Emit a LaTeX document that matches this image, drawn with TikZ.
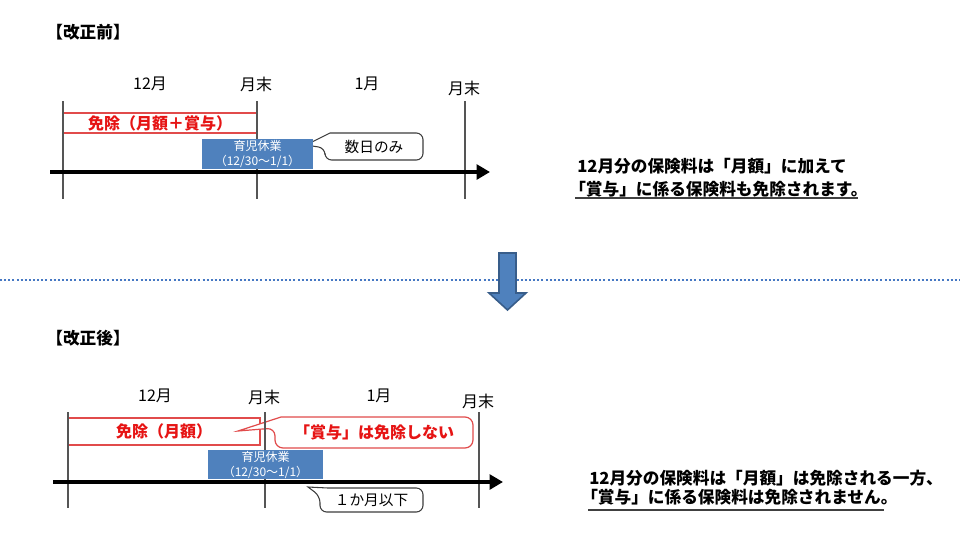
\documentclass[tikz,border=0pt]{standalone}
\usepackage{fontspec}
\setmainfont{Noto Sans CJK JP}
\usetikzlibrary{arrows.meta}
\definecolor{bluebox}{RGB}{79,129,189}
\definecolor{blueedge}{RGB}{56,93,138}
\definecolor{dotblue}{RGB}{70,120,195}
\definecolor{redtxt}{RGB}{230,20,20}
\definecolor{rededge}{RGB}{225,75,75}
\definecolor{vline}{RGB}{85,85,85}
\definecolor{cedge}{RGB}{60,60,60}
\begin{document}
\begin{tikzpicture}[x=0.75pt,y=-0.75pt,
  titletxt/.style={font=\bfseries\fontsize{12.5}{14}\selectfont, inner sep=0},
  month/.style={font=\fontsize{12}{14}\selectfont, inner sep=0},
  redlbl/.style={font=\bfseries\fontsize{12}{14}\selectfont, text=redtxt, inner sep=0},
  leavetxt/.style={font=\fontsize{9}{11.25}\selectfont, text=white, align=center, inner sep=0},
  calltxt/.style={font=\fontsize{11}{13}\selectfont, inner sep=0},
  notetxt/.style={font=\bfseries\fontsize{12.5}{15}\selectfont, inner sep=0, anchor=west},
  timeaxis/.style={line width=3.4pt, -{Triangle[length=10pt,width=11pt]}},
  tickline/.style={draw=vline, line width=0.8pt},
  redbox/.style={draw=rededge, fill=white, line width=0.9pt},
  redcall/.style={draw=rededge, fill=white, line width=0.9pt},
  blkcall/.style={draw=cedge, fill=white, line width=0.8pt},
  leavebox/.style={fill=bluebox},
  uline/.style={draw=black!75, line width=1.3pt},
  dotline/.style={draw=dotblue, line width=1.5pt, dash pattern=on 1.5pt off 1.6pt},
  blockarrow/.style={fill=bluebox, draw=blueedge, line width=1.2pt}]
\useasboundingbox (0,0) rectangle (960,547);

% ---------------- top section ----------------
\node[titletxt] (t1) at (88,32) {【改正前】};
\node[month] (a12) at (150,84) {12月};
\node[month] (aend1) at (256,84) {月末};
\node[month] (a1) at (367,84) {1月};
\node[month] (aend2) at (464,88) {月末};

\draw[redbox] (63,113) rectangle (257,133);
\node[redlbl] (aex) at (160,123) {免除（月額＋賞与）};

\draw[blkcall] (325,148) -- (306,145) -- (330,133) [rounded corners=5] -- (423,133) -- (423,160) -- (325,160) -- cycle;
\node[calltxt] (afew) at (374,147) {数日のみ};

\draw[tickline] (63,101) -- (63,199);
\draw[tickline] (257,101) -- (257,199);
\draw[tickline] (465,101) -- (465,199);

\fill[leavebox] (202,139) rectangle (313,169);
\node[leavetxt] (aleave) at (257.5,154) {育児休業\\（12/30～1/1）};

\coordinate (as) at (50,172);
\coordinate (ae) at (490,172);
\draw[timeaxis] (as) -- (ae);

\node[notetxt] (an1) at (577,166) {12月分の保険料は「月額」に加えて};
\node[notetxt] (an2) at (569,189.5) {「賞与」に係る保険料も免除されます。};
\draw[uline] (575,198) -- (858,198);

% ---------------- separator ----------------
\draw[dotline] (0,280) -- (960,280);
\draw[blockarrow] (499,253) -- (516,253) -- (516,293) -- (526,293) -- (507.5,310) -- (489,293) -- (499,293) -- cycle;

% ---------------- bottom section ----------------
\node[titletxt] (t2) at (88,338) {【改正後】};
\node[month] (b12) at (155,396) {12月};
\node[month] (bend1) at (264,397) {月末};
\node[month] (b1) at (379,396) {1月};
\node[month] (bend2) at (478,401) {月末};

\draw[redbox] (68,418) rectangle (260,445);
\node[redlbl] (bex) at (164,431) {免除（月額）};

\draw[redcall] (275,428) -- (238,431) -- (281,417) [rounded corners=6] -- (473,417) -- (473,448) -- (275,448) -- cycle;
\node[redlbl] (bno) at (374,432.5) {「賞与」は免除しない};

\draw[tickline] (68,412) -- (68,508);
\draw[tickline] (265,412) -- (265,508);
\draw[tickline] (479,412) -- (479,508);

\fill[leavebox] (208,450) rectangle (323,479);
\node[leavetxt] (bleave) at (265.5,465) {育児休業\\（12/30～1/1）};

\coordinate (bs) at (53,482);
\coordinate (be) at (503,482);
\draw[timeaxis] (bs) -- (be);

\draw[blkcall] (320,496) -- (308,487) -- (328,488) [rounded corners=5] -- (423,488) -- (423,512) -- (320,512) -- cycle;
\node[calltxt] (bmonth) at (371.5,500) {１か月以下};

\node[notetxt] (bn1) at (589,478) {12月分の保険料は「月額」は免除される一方、};
\node[notetxt] (bn2) at (581,497.5) {「賞与」に係る保険料は免除されません。};
\draw[uline] (588,510) -- (884,510);
\end{tikzpicture}
\end{document}
